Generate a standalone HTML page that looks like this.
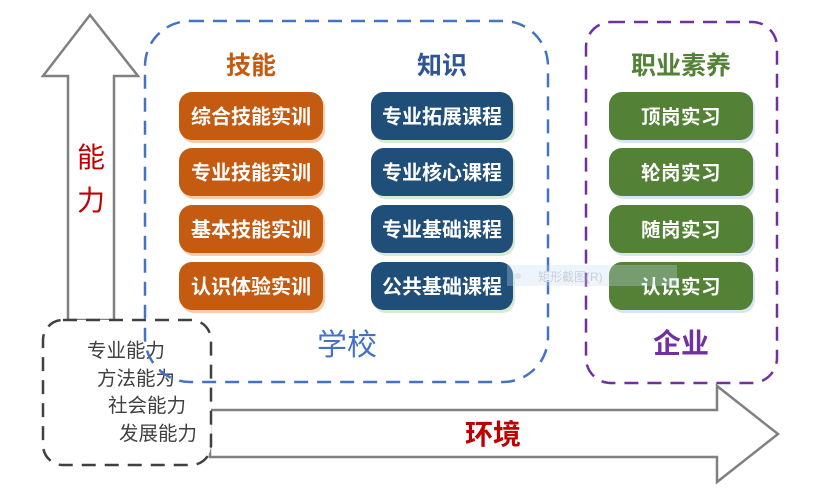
<!DOCTYPE html>
<html>
<head>
<meta charset="utf-8">
<style>
html,body{margin:0;padding:0;background:#fff;}
svg{display:block;}
text{font-family:"Liberation Sans","Noto Sans CJK SC",sans-serif;}
</style>
</head>
<body>
<svg width="813" height="496" viewBox="0 0 813 496" xmlns="http://www.w3.org/2000/svg">
  <rect width="813" height="496" fill="#fff"/>

  <!-- Up arrow -->
  <polygon points="68,320 68,76 43,76 90,15 138,76 114,76 114,320" fill="#fff" stroke="#808080" stroke-width="2.5" stroke-linejoin="miter"/>
  <text x="91" y="167" font-size="28" fill="#C00000" text-anchor="middle">能</text>
  <text x="91" y="210" font-size="28" fill="#C00000" text-anchor="middle">力</text>

  <!-- Right arrow -->
  <polygon points="210,410 717,410 717,386 778,434 717,482 717,457 210,457" fill="#fff" stroke="#808080" stroke-width="2.5"/>
  <text x="493" y="444" font-size="28" font-weight="bold" fill="#C00000" text-anchor="middle">环境</text>

  <!-- Black dashed box -->
  <rect x="43" y="320" width="168" height="145" rx="20" ry="20" fill="#fff" stroke="#404040" stroke-width="2.5" stroke-dasharray="14 9"/>
  <g font-size="19.5" fill="#404040" text-anchor="middle">
    <text x="126" y="357">专业能力</text>
    <text x="136" y="385">方法能为</text>
    <text x="147" y="412">社会能力</text>
    <text x="158" y="440">发展能力</text>
  </g>

  <!-- Blue dashed school box -->
  <rect x="145" y="21" width="403" height="361" rx="45" ry="45" fill="none" stroke="#4472C4" stroke-width="2.5" stroke-dasharray="14 9"/>
  <!-- Purple dashed enterprise box -->
  <rect x="586" y="22" width="191" height="361" rx="25" ry="25" fill="none" stroke="#7030A0" stroke-width="2.5" stroke-dasharray="14 9"/>

  <!-- Headers -->
  <text x="251" y="74" font-size="25" font-weight="bold" fill="#C55A11" text-anchor="middle">技能</text>
  <text x="442" y="74" font-size="25" font-weight="bold" fill="#2F5597" text-anchor="middle">知识</text>
  <text x="681" y="74" font-size="25" font-weight="bold" fill="#538135" text-anchor="middle">职业素养</text>

  <!-- Orange boxes -->
  <g>
    <rect x="181" y="95" width="144" height="48" rx="13" fill="#F8CBAD"/>
    <rect x="179" y="92" width="144" height="48" rx="13" fill="#C55A11"/>
    <rect x="181" y="151" width="144" height="48" rx="13" fill="#F8CBAD"/>
    <rect x="179" y="148" width="144" height="48" rx="13" fill="#C55A11"/>
    <rect x="181" y="208" width="144" height="48" rx="13" fill="#F8CBAD"/>
    <rect x="179" y="205" width="144" height="48" rx="13" fill="#C55A11"/>
    <rect x="181" y="265" width="144" height="48" rx="13" fill="#F8CBAD"/>
    <rect x="179" y="262" width="144" height="48" rx="13" fill="#C55A11"/>
  </g>
  <g font-size="20" font-weight="bold" fill="#fff" text-anchor="middle">
    <text x="251" y="123.5">综合技能实训</text>
    <text x="251" y="179.5">专业技能实训</text>
    <text x="251" y="236.5">基本技能实训</text>
    <text x="251" y="293.5">认识体验实训</text>
  </g>

  <!-- Blue boxes -->
  <g>
    <rect x="373" y="95" width="142" height="48" rx="13" fill="#D9EAD3"/>
    <rect x="371" y="92" width="142" height="48" rx="13" fill="#1F4E79"/>
    <rect x="373" y="151" width="142" height="48" rx="13" fill="#D9EAD3"/>
    <rect x="371" y="148" width="142" height="48" rx="13" fill="#1F4E79"/>
    <rect x="373" y="208" width="142" height="48" rx="13" fill="#D9EAD3"/>
    <rect x="371" y="205" width="142" height="48" rx="13" fill="#1F4E79"/>
    <rect x="373" y="265" width="142" height="48" rx="13" fill="#D9EAD3"/>
    <rect x="371" y="262" width="142" height="48" rx="13" fill="#1F4E79"/>
  </g>
  <g font-size="20" font-weight="bold" fill="#fff" text-anchor="middle">
    <text x="442" y="123.5">专业拓展课程</text>
    <text x="442" y="179.5">专业核心课程</text>
    <text x="442" y="236.5">专业基础课程</text>
    <text x="442" y="293.5">公共基础课程</text>
  </g>

  <!-- Green boxes -->
  <g>
    <rect x="611" y="95" width="144" height="48" rx="13" fill="#D6E4F5"/>
    <rect x="609" y="92" width="144" height="48" rx="13" fill="#538135"/>
    <rect x="611" y="151" width="144" height="48" rx="13" fill="#D6E4F5"/>
    <rect x="609" y="148" width="144" height="48" rx="13" fill="#538135"/>
    <rect x="611" y="208" width="144" height="48" rx="13" fill="#D6E4F5"/>
    <rect x="609" y="205" width="144" height="48" rx="13" fill="#538135"/>
    <rect x="611" y="265" width="144" height="48" rx="13" fill="#D6E4F5"/>
    <rect x="609" y="262" width="144" height="48" rx="13" fill="#538135"/>
  </g>
  <g font-size="19.5" font-weight="bold" fill="#fff" text-anchor="middle" letter-spacing="0.5">
    <text x="681" y="123.5">顶岗实习</text>
    <text x="681" y="179.5">轮岗实习</text>
    <text x="681" y="236.5">随岗实习</text>
    <text x="681" y="293.5">认识实习</text>
  </g>

  <!-- Tooltip artifact -->
  <rect x="507" y="265" width="170" height="21" fill="#C8DCF5" fill-opacity="0.3"/>
  <circle cx="518" cy="276" r="3" fill="#DDE3EA"/>
  <text x="538" y="281" font-size="12" fill="#C9CFD6">矩形截图(R)</text>

  <!-- Bottom labels -->
  <text x="347" y="355" font-size="30" fill="#4472C4" text-anchor="middle">学校</text>
  <text x="681" y="353" font-size="28" font-weight="bold" fill="#7030A0" text-anchor="middle">企业</text>
</svg>
</body>
</html>
